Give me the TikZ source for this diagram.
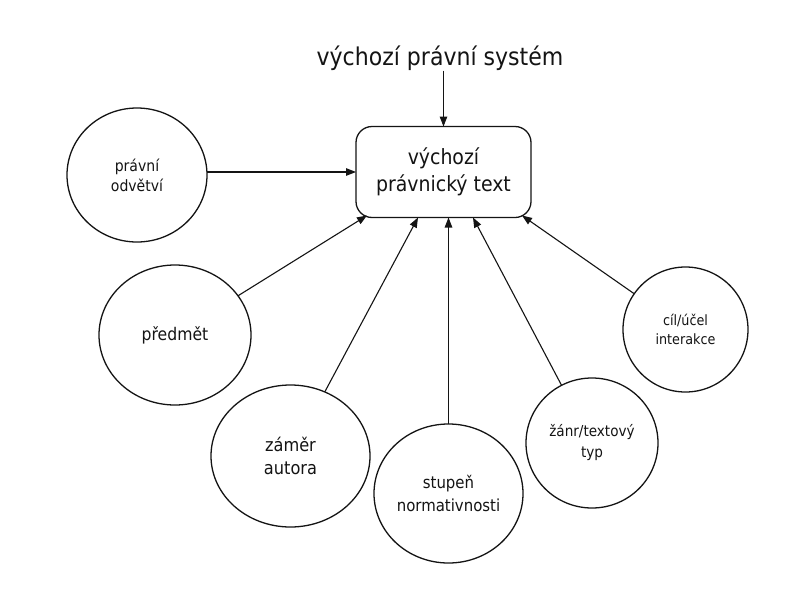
\documentclass[tikz,border=0pt]{standalone}
\usepackage{fontspec}
\setmainfont{DejaVu Sans Condensed}
\usetikzlibrary{arrows.meta,shapes.geometric}
\definecolor{ink}{HTML}{141414}
\tikzset{
  bubble/.style={ellipse, draw=ink, line width=1.3pt, inner sep=0pt, outer sep=0pt, align=center, text=ink},
  mainbox/.style={rectangle, rounded corners=16pt, draw=ink, line width=1.3pt, inner sep=0pt, outer sep=0pt, align=center, text=ink, minimum width=175pt, minimum height=91pt},
  arr/.style={draw=ink, line width=1.1pt, -{Triangle[length=10pt,width=7.5pt]}},
}
\begin{document}
\begin{tikzpicture}[x=1pt,y=1pt]
\fill[white] (0,0) rectangle (804,-600);
\useasboundingbox (0,0) rectangle (804,-600);

\node[inner sep=0pt, text=ink, font=\fontsize{24.5}{28}\selectfont] (title) at (440,-58) {výchozí právní systém};

\node[mainbox, font=\fontsize{21}{27}\selectfont] (box) at (443.5,-172) {výchozí\\právnický text};

\node[bubble, minimum width=140pt, minimum height=134pt, font=\fontsize{15.6}{20}\selectfont] (odv) at (137,-175) {právní\\odvětví};
\node[bubble, minimum width=152pt, minimum height=140pt, font=\fontsize{17.4}{22}\selectfont] (pred) at (175,-335) {předmět};
\node[bubble, minimum width=159pt, minimum height=142pt, font=\fontsize{18}{23}\selectfont] (zam) at (290.5,-456) {záměr\\autora};
\node[bubble, minimum width=149pt, minimum height=139pt, font=\fontsize{16.6}{23}\selectfont] (stu) at (448.5,-493.5) {stupeň\\normativnosti};
\node[bubble, minimum width=132pt, minimum height=130pt, font=\fontsize{15.1}{21}\selectfont] (zanr) at (592,-443) {žánr/textový\\typ};
\node[bubble, minimum width=125pt, minimum height=125pt, font=\fontsize{14.2}{19.5}\selectfont] (cil) at (685.5,-329.5) {cíl/účel\\interakce};

\draw[arr] (title.south -| box.north) -- (box.north);
\draw[arr] (odv.east |- box.west) -- (box.west);
\draw[arr] (pred) -- ([xshift=11pt,yshift=2pt]box.south west);
\draw[arr] (zam) -- ([xshift=62pt]box.south west);
\draw[arr] (stu) -- (stu |- box.south);
\draw[arr] (zanr) -- ([xshift=117pt]box.south west);
\draw[arr] (cil) -- ([xshift=-9pt,yshift=2pt]box.south east);
\end{tikzpicture}
\end{document}
